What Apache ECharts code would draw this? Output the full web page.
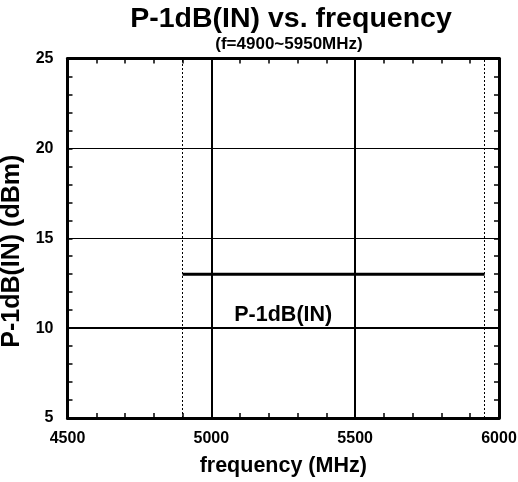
<!DOCTYPE html>
<html>
<head>
<meta charset="utf-8">
<script src="https://cdn.jsdelivr.net/npm/echarts@6/dist/echarts.min.js"></script>
<style>
html,body{margin:0;padding:0;background:#fff;}
#c{width:518px;height:482px;}
</style>
</head>
<body>
<div id="c"></div>
<script>
// ---- data ----
var titleText = 'P-1dB(IN) vs. frequency';
var subtitleText = '(f=4900~5950MHz)';
var xName = 'frequency (MHz)';
var yName = 'P-1dB(IN) (dBm)';
var xRange = [4500, 6000];
var yRange = [5, 25];
var xStep = 500;
var yStep = 5;
var seriesName = 'P-1dB(IN)';
var seriesFreq = [4900, 5950];
var seriesP1dB = [13, 13];
var bandEdges = [4900, 5950];
var boldGridY = [10];
var labelAt = [5250, 10.75];

var font = 'Liberation Sans, Arial, sans-serif';
var chart = echarts.init(document.getElementById('c'), null, {renderer: 'canvas'});

var lineData = seriesFreq.map(function (f, i) { return [f, seriesP1dB[i]]; });

var baseX = {
  type: 'value', min: xRange[0], max: xRange[1], interval: xStep
};
var baseY = {
  type: 'value', min: yRange[0], max: yRange[1], interval: yStep
};
var plain = function (v) { return String(v); };

var option = {
  animation: false,
  backgroundColor: '#fff',
  title: [{
    text: titleText,
    left: 286, top: 0, textAlign: 'center',
    textStyle: {fontFamily: font, fontWeight: 'bold', fontSize: 28.5, color: '#000'}
  }, {
    text: subtitleText,
    left: 284, top: 31, textAlign: 'center',
    textStyle: {fontFamily: font, fontWeight: 'bold', fontSize: 17, color: '#000'}
  }],
  grid: {left: 67.5, right: 19, top: 58.5, bottom: 64, containLabel: false, outerBoundsMode: 'none'},
  xAxis: [
    Object.assign({}, baseX, {
      position: 'bottom',
      name: xName, nameLocation: 'middle', nameGap: 37,
      nameTextStyle: {fontFamily: font, fontWeight: 'bold', fontSize: 21.5, color: '#000'},
      axisLine: {show: true, onZero: false, lineStyle: {color: '#000', width: 3}},
      axisTick: {show: true, inside: true, length: 5, lineStyle: {color: '#000', width: 1.5}},
      minorTick: {show: true, splitNumber: 5, length: 5, lineStyle: {color: '#000', width: 1.5}},
      axisLabel: {margin: 13, formatter: plain, fontFamily: font, fontWeight: 'bold', fontSize: 16, color: '#000'},
      splitLine: {show: true, lineStyle: {color: '#000', width: 2}}
    }),
    Object.assign({}, baseX, {
      position: 'top',
      axisLine: {show: true, onZero: false, lineStyle: {color: '#000', width: 3}},
      axisTick: {show: true, inside: true, length: 5, lineStyle: {color: '#000', width: 1.5}},
      minorTick: {show: true, splitNumber: 5, length: 5, lineStyle: {color: '#000', width: 1.5}},
      axisLabel: {show: false},
      splitLine: {show: false}
    })
  ],
  yAxis: [
    Object.assign({}, baseY, {
      position: 'left',
      name: yName, nameLocation: 'middle', nameGap: 43, nameRotate: 90,
      nameTextStyle: {fontFamily: font, fontWeight: 'bold', fontSize: 25, color: '#000', padding: [0, 26, 0, 0]},
      axisLine: {show: true, onZero: false, lineStyle: {color: '#000', width: 3}},
      axisTick: {show: true, inside: true, length: 5, lineStyle: {color: '#000', width: 1.5}},
      minorTick: {show: true, splitNumber: 5, length: 5, lineStyle: {color: '#000', width: 1.5}},
      axisLabel: {margin: 14, formatter: plain, fontFamily: font, fontWeight: 'bold', fontSize: 16, color: '#000'},
      splitLine: {show: true, lineStyle: {color: '#000', width: 1}}
    }),
    Object.assign({}, baseY, {
      position: 'right',
      axisLine: {show: true, onZero: false, lineStyle: {color: '#000', width: 3}},
      axisTick: {show: true, inside: true, length: 5, lineStyle: {color: '#000', width: 1.5}},
      minorTick: {show: true, splitNumber: 5, length: 5, lineStyle: {color: '#000', width: 1.5}},
      axisLabel: {show: false},
      splitLine: {show: false}
    })
  ],
  series: [{
    name: seriesName,
    type: 'line',
    data: lineData,
    symbol: 'none',
    lineStyle: {color: '#000', width: 3},
    z: 5,
    markLine: {
      silent: true,
      symbol: 'none',
      label: {show: false},
      data: bandEdges.map(function (v) {
        return {xAxis: v, lineStyle: {color: '#000', width: 1, type: [2, 2]}};
      }).concat(boldGridY.map(function (v) {
        return {yAxis: v, lineStyle: {color: '#000', width: 2, type: 'solid'}};
      }))
    }
  }, {
    type: 'scatter',
    data: [labelAt],
    symbolSize: 0,
    silent: true,
    z: 6,
    itemStyle: {color: '#000', opacity: 1},
    label: {
      show: true, position: 'inside', formatter: seriesName,
      fontFamily: font, fontWeight: 'bold', fontSize: 21.5, color: '#000', opacity: 1
    }
  }]
};
chart.setOption(option);
</script>
</body>
</html>
